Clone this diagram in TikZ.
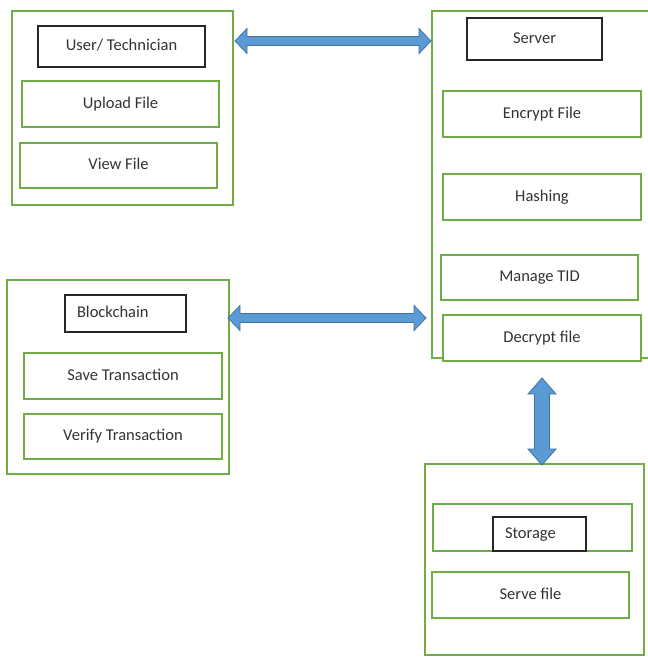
\documentclass[tikz,border=0pt]{standalone}
\usepackage{fontspec}
\setmainfont{Carlito}
\usetikzlibrary{calc}
\definecolor{boxgreen}{HTML}{70AD47}
\definecolor{arrfill}{HTML}{5B9BD5}
\definecolor{arrline}{HTML}{41719C}
\definecolor{txt}{HTML}{333333}
\tikzset{
  box/.style={rectangle, inner sep=0pt, fill=white, font=\fontsize{16.5}{19}\selectfont, text=txt,
    text height=10pt, text depth=2pt},
  gbox/.style={box, draw=boxgreen, line width=2pt},
  kbox/.style={box, draw=black!85, line width=2.4pt},
  lefttext/.style={align=left, inner xsep=12pt},
  fatarrow/.style={draw=arrline, fill=arrfill, line width=0.8pt, line join=miter},
}
\newcommand{\harrowpath}[2]{%
  \draw[fatarrow] (#1) -- ($(#1)+(12,-12.5)$) -- ($(#1)+(12,-4.5)$) -- ($(#2)+(-12,-4.5)$)
    -- ($(#2)+(-12,-12.5)$) -- (#2) -- ($(#2)+(-12,12.5)$) -- ($(#2)+(-12,4.5)$)
    -- ($(#1)+(12,4.5)$) -- ($(#1)+(12,12.5)$) -- cycle;}
\newcommand{\varrowpath}[2]{%
  \draw[fatarrow] (#1) -- ($(#1)+(14,16)$) -- ($(#1)+(7.5,16)$) -- ($(#2)+(7.5,-16)$)
    -- ($(#2)+(14,-16)$) -- (#2) -- ($(#2)+(-14,-16)$) -- ($(#2)+(-7.5,-16)$)
    -- ($(#1)+(-7.5,16)$) -- ($(#1)+(-14,16)$) -- cycle;}
\begin{document}
\begin{tikzpicture}[x=1pt,y=-1pt]
\clip (0,0) rectangle (648,657);
\fill[white] (0,0) rectangle (648,657);
% User / Technician
\node[gbox, minimum width=221pt, minimum height=194pt] (user) at (122.5,108) {};
\node[kbox, minimum width=167pt, minimum height=41pt] (userlbl) at (121.5,46.5) {User/ Technician};
\node[gbox, minimum width=197pt, minimum height=46pt] (upload) at (120.5,104) {Upload File};
\node[gbox, minimum width=197pt, minimum height=45pt] (view) at (118.5,165.5) {View File};
% Server
\node[gbox, minimum width=228pt, minimum height=347pt] (server) at (546,184.5) {};
\node[kbox, minimum width=135pt, minimum height=42pt] (serverlbl) at (534.5,39) {Server};
\node[gbox, minimum width=198pt, minimum height=46pt] (encrypt) at (542,114) {Encrypt File};
\node[gbox, minimum width=198pt, minimum height=46pt] (hashing) at (542,197) {Hashing};
\node[gbox, minimum width=197pt, minimum height=45pt] (manage) at (539.5,277.5) {Manage TID};
\node[gbox, minimum width=198pt, minimum height=46pt] (decrypt) at (542,338) {Decrypt file};
% Blockchain
\node[gbox, minimum width=222pt, minimum height=194pt] (block) at (118,377) {};
\node[kbox, lefttext, text width=97pt, minimum height=37pt] (blocklbl) at (125.5,313.5) {Blockchain};
\node[gbox, minimum width=198pt, minimum height=46pt] (save) at (123,376) {Save Transaction};
\node[gbox, minimum width=198pt, minimum height=45pt] (verify) at (123,436.5) {Verify Transaction};
% Storage
\node[gbox, minimum width=219pt, minimum height=191pt] (storage) at (534.5,559.5) {};
\node[gbox, minimum width=199pt, minimum height=47pt] (storinner) at (532.5,527.5) {};
\node[kbox, lefttext, text width=69pt, minimum height=34pt] (storlbl) at (539.5,534) {Storage};
\node[gbox, minimum width=197pt, minimum height=46pt] (serve) at (530.5,595) {Serve file};
% Connectors
\coordinate (a1) at ($(user.east |- 0,41)+(1,0)$);
\coordinate (a2) at (server.west |- 0,41);
\harrowpath{a1}{a2}
\coordinate (b1) at ($(block.east |- 0,318)+(-2,0)$);
\coordinate (b2) at ($(server.west |- 0,318)+(-5,0)$);
\harrowpath{b1}{b2}
\coordinate (c1) at ($(decrypt.south)+(0,16)$);
\coordinate (c2) at ($(decrypt.south |- storage.north)+(0,2)$);
\varrowpath{c1}{c2}
\end{tikzpicture}
\end{document}
